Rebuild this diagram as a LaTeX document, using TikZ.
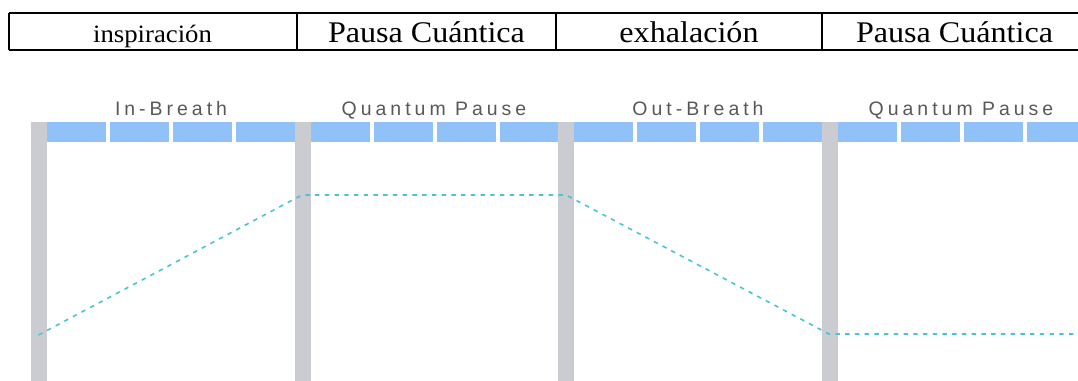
\documentclass[tikz,border=0pt]{standalone}
\usepackage{fontspec}
\setmainfont{Liberation Serif}
\newfontfamily\cellfont[FakeStretch=1.07]{Liberation Serif}
\newfontfamily\phasefont[LetterSpace=20.5]{Liberation Sans}
\definecolor{barblue}{HTML}{90C2F9}
\definecolor{bargray}{HTML}{CBCCD1}
\definecolor{breathcyan}{HTML}{45C7D3}
\definecolor{phasegray}{HTML}{585858}
\begin{document}
\begin{tikzpicture}[x=0.75pt, y=-0.75pt,
    cell/.style={anchor=base, font=\cellfont\fontsize{22.5}{24}\selectfont},
    phase/.style={anchor=base, text=phasegray, font=\phasefont\fontsize{14.6}{16}\selectfont}]
      \useasboundingbox (0,0) rectangle (1078,381);
      % Spanish table on top
      \draw [line width=1.5pt] (9,13) -- (1078,13) (9,50) -- (1078,50)
            (9,13) -- (9,50) (297,13) -- (297,50) (556,13) -- (556,50) (822,13) -- (822,50);
      \draw (152.5,42.5) node (insp) [cell, font=\cellfont\fontsize{18.75}{21}\selectfont] {inspiración}
            (426.5,42.5) node (pausea) [cell] {Pausa Cuántica}
            (689,42.5) node (exha) [cell] {exhalación}
            (954.5,42.5) node (pauseb) [cell] {Pausa Cuántica};
      % breath chart
      \draw (171,116) node (inb) [phase] {In-Breath}
            (434,116) node (qpa) [phase] {Quantum Pause}
            (698,116) node (outb) [phase] {Out-Breath}
            (961,116) node (qpb) [phase] {Quantum Pause};
      \foreach \x in {31, 294.5, 558, 821.5} {
        \fill [bargray] (\x,122) rectangle ++(16,259);
        \foreach \k in {0,...,3}
          \fill [barblue] ({\x+16+\k*63},122) rectangle ++(59,20);
      }
      \coordinate (start) at (38.5,335);
      \coordinate (topl) at (302,195);
      \coordinate (topr) at (566,195);
      \coordinate (low) at (829,334);
      \coordinate (lowend) at (1078,334);
      \draw [breathcyan, line width=1.2pt, dash pattern=on 3.3pt off 4pt]
            (start) -- (topl) -- (topr) -- (low) -- (lowend);
\end{tikzpicture}
\end{document}
